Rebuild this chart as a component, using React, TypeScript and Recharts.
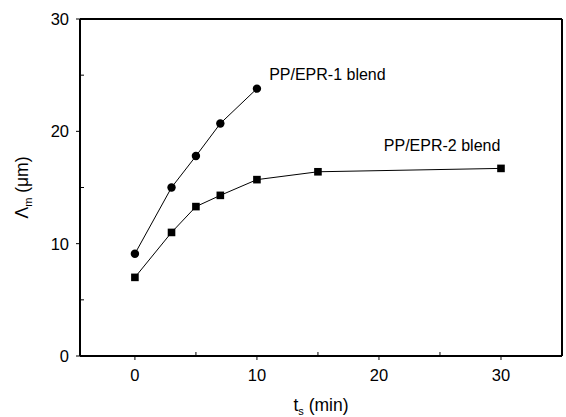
import React from "react";
import { LineChart, Line, XAxis, YAxis, ReferenceLine, ReferenceDot } from "recharts";

const tsEPR1 = [0, 3, 5, 7, 10];
const lambdaEPR1 = [9.1, 15.0, 17.8, 20.7, 23.8];
const tsEPR2 = [0, 3, 5, 7, 10, 15, 30];
const lambdaEPR2 = [7.0, 11.0, 13.3, 14.3, 15.7, 16.4, 16.7];
const xTicks = [0, 5, 10, 15, 20, 25, 30];
const yTicks = [0, 5, 10, 15, 20, 25, 30];
const label1 = "PP/EPR-1 blend";
const label2 = "PP/EPR-2 blend";

const data1 = tsEPR1.map((x, i) => ({ x, y: lambdaEPR1[i] }));
const data2 = tsEPR2.map((x, i) => ({ x, y: lambdaEPR2[i] }));

const FONT = "'Liberation Sans', Arial, sans-serif";

const XTick = (props: any) => {
  const { x, y, payload } = props;
  const v = payload.value;
  const major = v % 10 === 0;
  return (
    <g>
      {major ? (
        <line x1={x} x2={x} y1={y} y2={y + 4} stroke="#000" strokeWidth={1} />
      ) : (
        <line x1={x} x2={x} y1={y} y2={y - 4} stroke="#000" strokeWidth={1} />
      )}
      {major && (
        <text x={x} y={y + 25} textAnchor="middle" fontSize={16.5} fontFamily={FONT} fill="#000">
          {v}
        </text>
      )}
    </g>
  );
};

const YTick = (props: any) => {
  const { x, y, payload } = props;
  const v = payload.value;
  const major = v % 10 === 0;
  return (
    <g>
      {major ? (
        <line x1={x - 4} x2={x} y1={y} y2={y} stroke="#000" strokeWidth={1} />
      ) : (
        <line x1={x} x2={x + 4} y1={y} y2={y} stroke="#000" strokeWidth={1} />
      )}
      {major && (
        <text x={x - 11} y={y} dy="0.36em" textAnchor="end" fontSize={16.5} fontFamily={FONT} fill="#000">
          {v}
        </text>
      )}
    </g>
  );
};

const Circle = (props: any) => {
  const { cx, cy } = props;
  if (cx == null || cy == null) return null;
  return <circle cx={cx} cy={cy} r={4.2} fill="#000" />;
};

const Square = (props: any) => {
  const { cx, cy } = props;
  if (cx == null || cy == null) return null;
  return <rect x={cx - 3.8} y={cy - 3.8} width={7.6} height={7.6} fill="#000" />;
};

const XTitle = (props: any) => {
  const { viewBox } = props;
  const cx = viewBox.x + viewBox.width / 2;
  return (
    <text x={cx} y={411} textAnchor="middle" fontSize={17.5} fontFamily={FONT} fill="#000">
      <tspan>t</tspan>
      <tspan fontSize={11} dy={4}>s</tspan>
      <tspan dy={-4}> (min)</tspan>
    </text>
  );
};

const YTitle = (props: any) => {
  const { viewBox } = props;
  const cy = viewBox.y + viewBox.height / 2;
  const cx = 28;
  return (
    <text
      x={cx}
      y={cy}
      transform={`rotate(-90 ${cx} ${cy})`}
      textAnchor="middle"
      fontSize={17.5}
      fontFamily={FONT}
      fill="#000"
    >
      <tspan>Λ</tspan>
      <tspan fontSize={11} dy={4}>m</tspan>
      <tspan dy={-4}> (μm)</tspan>
    </text>
  );
};

const SeriesLabel = (text: string) => (props: any) => {
  const { viewBox } = props;
  const x = viewBox.x + (viewBox.width || 0) / 2;
  const y = viewBox.y + (viewBox.height || 0) / 2;
  return (
    <text x={x} y={y} dy="0.36em" textAnchor="start" fontSize={16} fontFamily={FONT} fill="#000">
      {text}
    </text>
  );
};

export default function App() {
  return (
    <div style={{ position: "absolute", left: 0, top: 0, background: "#fff" }}>
      <LineChart width={566} height={417} margin={{ top: 19, right: 4, bottom: 0, left: 0 }}>
        <XAxis
          type="number"
          dataKey="x"
          domain={[-4.5, 35]}
          allowDataOverflow
          ticks={xTicks}
          interval={0}
          tickSize={0}
          tickMargin={0}
          tickLine={false}
          tick={<XTick />}
          height={61}
          axisLine={{ stroke: "#000", strokeWidth: 2 }}
          label={<XTitle />}
        />
        <YAxis
          type="number"
          dataKey="y"
          domain={[0, 30]}
          allowDataOverflow
          ticks={yTicks}
          interval={0}
          tickSize={0}
          tickMargin={0}
          tickLine={false}
          tick={<YTick />}
          width={80}
          axisLine={{ stroke: "#000", strokeWidth: 2 }}
          label={<YTitle />}
        />
        <ReferenceLine y={30} stroke="#000" strokeWidth={2} />
        <ReferenceLine x={35} stroke="#000" strokeWidth={2} />
        <Line
          data={data1}
          dataKey="y"
          stroke="#000"
          strokeWidth={1}
          dot={<Circle />}
          activeDot={false}
          isAnimationActive={false}
        />
        <Line
          data={data2}
          dataKey="y"
          stroke="#000"
          strokeWidth={1}
          dot={<Square />}
          activeDot={false}
          isAnimationActive={false}
        />
        <ReferenceDot x={11} y={25.1} r={0} stroke="none" fill="none" label={SeriesLabel(label1)} />
        <ReferenceDot x={20.4} y={18.8} r={0} stroke="none" fill="none" label={SeriesLabel(label2)} />
      </LineChart>
    </div>
  );
}
